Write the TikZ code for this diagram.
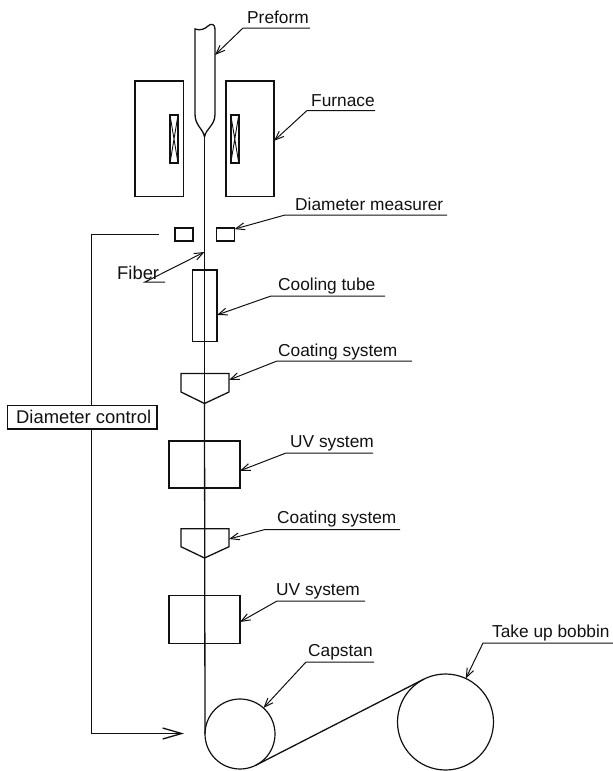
\documentclass[tikz,border=0pt]{standalone}
\usepackage{fontspec}
\setmainfont{Liberation Sans}
\usetikzlibrary{arrows.meta,calc}
\definecolor{ink}{HTML}{111111}

\begin{document}
\begin{tikzpicture}[
  x=1pt, y=-1pt,
  unit/.style={draw=ink, line width=1.2pt, fill=none, inner sep=0pt, outer sep=0pt},
  coil/.style={unit, line width=1.5pt, minimum width=8pt, minimum height=48pt,
    path picture={\draw[ink, line width=0.9pt]
      (path picture bounding box.north west) -- (path picture bounding box.south east)
      (path picture bounding box.north east) -- (path picture bounding box.south west);}},
  roll/.style={circle, draw=ink, line width=1.2pt, inner sep=0pt, outer sep=0pt},
  lbl/.style={anchor=base west, inner sep=0pt, text=ink, font=\fontsize{17.3}{20}\selectfont},
  line/.style={draw=ink, line width=1.3pt},
  lead/.style={draw=ink, line width=1pt},
  tip/.style={lead, -{Straight Barb[length=9pt, width=7pt]}},
  bigtip/.style={line, -{Straight Barb[length=19pt, width=11pt]}}
]
\useasboundingbox (0,0) rectangle (613,771);

% furnace
\node[unit, minimum width=48.5pt, minimum height=115.5pt] (furnl) at (159.25,138.75) {};
\node[unit, minimum width=48pt, minimum height=115.5pt] (furnr) at (250,138.75) {};
\node[coil] (coill) at (174,139) {};
\node[coil] (coilr) at (234.75,139) {};

% preform
\coordinate (tiptop) at (204.5,137);
\coordinate (preside) at (215,55);
\draw[line] (tiptop) .. controls (203,128) and (195,126) .. (195,114) -- (195,29)
  .. controls (200,31) and (205,29) .. (208,26) .. controls (211,23) and (215,24) .. (215,29)
  -- (215,114) .. controls (215,126) and (206,128) .. (tiptop);

% measurer and tube
\node[unit, minimum width=18pt, minimum height=13pt] (meal) at (184,234.5) {};
\node[unit, minimum width=18pt, minimum height=13pt] (mear) at (225.5,234.5) {};
\node[unit, minimum width=24.5pt, minimum height=71.5pt] (cool) at (204.75,305.75) {};

% coating and uv
\coordinate (coatasd) at (229,380);
\draw[line] (181,373.5) -- (229,373.5) -- (229,392) -- (204.5,403.5) -- (181,392) -- cycle;
\node[unit, minimum width=71pt, minimum height=47pt] (uva) at (204.5,464.5) {};
\coordinate (coatbsd) at (229,539);
\draw[line] (181,528.7) -- (229,528.7) -- (229,546.7) -- (204.5,558) -- (181,546.7) -- cycle;
\node[unit, minimum width=71pt, minimum height=48pt] (uvb) at (204.5,619.5) {};

% rollers
\node[roll, minimum size=70pt] (capstan) at (240,734) {};
\node[roll, minimum size=96pt] (bobbin) at (445.5,722) {};

% fiber
\coordinate (fibpt) at (204.5,252);
\draw[lead] (tiptop) -- (204.5,403.5);
\draw[line] (204.5,403.5) -- (capstan.west);
\draw[line] (capstan.-63) -- (bobbin.117);

% control loop
\node[unit, minimum width=149.5pt, minimum height=23.5pt] (control) at (82.25,417.25) {};
\node[lbl, font=\fontsize{18.4}{20}\selectfont] (controltxt) at (16,423) {Diameter control};
\coordinate (ctrlstart) at (159,234.5);
\coordinate (ctrlturn) at (91.5,234.5);
\coordinate (ctrlend) at (184,733.5);
\draw[line] (ctrlstart) -- (ctrlturn) -- (ctrlturn |- control.north);
\draw[bigtip] (ctrlturn |- control.south) |- (ctrlend);

% labels
\node[lbl] (pretxt) at (247,23.5) {Preform};
\node[lbl] (furtxt) at (311,106.7) {Furnace};
\node[lbl] (diatxt) at (295,210) {Diameter measurer};
\node[lbl, font=\fontsize{18.4}{20}\selectfont] (fibtxt) at (117,279) {Fiber};
\node[lbl] (cootxt) at (278,290) {Cooling tube};
\node[lbl] (cotatxt) at (278,356) {Coating system};
\node[lbl] (uvatxt) at (290,447) {UV system};
\node[lbl] (cotbtxt) at (277,523) {Coating system};
\node[lbl] (uvbtxt) at (276,595) {UV system};
\node[lbl] (captxt) at (308,656) {Capstan};
\node[lbl] (bobtxt) at (492,637) {Take up bobbin};

% leaders
\draw[tip] (310,28) -- (243,28) -- (preside);
\draw[tip] (375,110.5) -- (307,110.5) -- (furnr.-5);
\draw[tip] (447,215) -- (285,215) -- (mear.31);
\draw[tip] (165,282) -- (145,282) -- (fibpt);
\draw[tip] (385,296) -- (271,296) -- (cool.-37);
\draw[tip] (412,361) -- (277,361) -- (coatasd);
\draw[tip] (373,453) -- (286,453) -- (uva.-10);
\draw[tip] (400,529.5) -- (265,529.5) -- (coatbsd);
\draw[tip] (365,601) -- (277,601) -- (uvb.-4);
\draw[tip] (374,662) -- (306,662) -- (capstan.48);
\draw[tip] (613,643) -- (483,643) -- (bobbin.65);
\end{tikzpicture}
\end{document}
